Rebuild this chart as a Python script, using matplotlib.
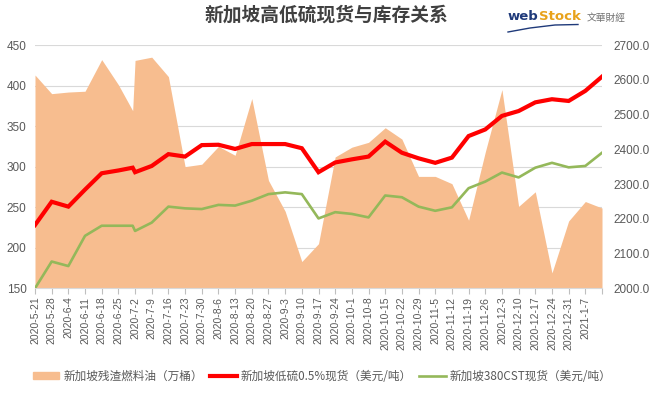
import numpy as np
import pandas as pd
import matplotlib.pyplot as plt

plt.rcParams['font.family'] = ['Noto Sans CJK SC', 'DejaVu Sans']

# 数据
dates = ['2020-05-21', '2020-05-28', '2020-06-04', '2020-06-11', '2020-06-18', '2020-06-25',
         '2020-07-01', '2020-07-02', '2020-07-09', '2020-07-16', '2020-07-23', '2020-07-30',
         '2020-08-06', '2020-08-13', '2020-08-20', '2020-08-27', '2020-09-03', '2020-09-10',
         '2020-09-17', '2020-09-24', '2020-10-01', '2020-10-08', '2020-10-15', '2020-10-22',
         '2020-10-29', '2020-11-05', '2020-11-12', '2020-11-19', '2020-11-26', '2020-12-03',
         '2020-12-10', '2020-12-17', '2020-12-24', '2020-12-31', '2021-01-07', '2021-01-14']
stock = [413, 390, 392, 393, 432, 401, 369, 431, 435, 411, 300, 303, 325, 314, 384, 283,
         245, 183, 205, 312, 324, 330, 348, 334, 288, 288, 279, 234, 318, 395, 251, 269,
         169, 233, 257, 249]
lsfo = [2182, 2249, 2235, 2284, 2331, 2339, 2347, 2334, 2352, 2386, 2379, 2412, 2413, 2401,
        2415, 2415, 2415, 2403, 2334, 2362, 2371, 2379, 2422, 2390, 2374, 2361, 2376, 2438,
        2457, 2496, 2510, 2535, 2544, 2539, 2568, 2609]
cst380 = [2000, 2077, 2064, 2151, 2180, 2180, 2180, 2165, 2189, 2235, 2230, 2228, 2240, 2238,
          2252, 2271, 2276, 2271, 2201, 2219, 2214, 2204, 2267, 2262, 2235, 2223, 2233, 2288,
          2307, 2333, 2319, 2347, 2361, 2348, 2352, 2390]

tick_dates = pd.date_range('2020-05-21', '2021-01-14', freq='7D')
tick_labels = [f"{d.year}-{d.month}-{d.day}" for d in tick_dates[:-1]] + ['']

x = pd.to_datetime(dates)

fig = plt.figure(figsize=(6.52, 3.93), dpi=100)
ax = fig.add_axes([35 / 652, 1 - 288.3 / 393, 567 / 652, 243.3 / 393])
ax2 = ax.twinx()

ax.fill_between(x, 150, stock, color='#F7BD8F', linewidth=0, zorder=2)
ax2.plot(x, lsfo, color='#FF0000', linewidth=3.0, solid_joinstyle='miter', zorder=3)
ax2.plot(x, cst380, color='#94B85A', linewidth=1.9, zorder=3)

ax.set_ylim(150, 450)
ax.set_yticks(np.arange(150, 451, 50))
ax2.set_ylim(2000, 2700)
ax2.set_yticks(np.arange(2000, 2701, 100))
ax2.set_yticklabels([f"{v:.1f}" for v in np.arange(2000, 2701, 100)])
ax.set_xlim(x[0], x[-1])
ax.set_xticks(tick_dates)
ax.set_xticklabels(tick_labels, rotation=90, ha='center', va='top')

ax.grid(axis='y', color='#D9D9D9', linewidth=0.8, zorder=0)
ax.set_axisbelow(True)
for a in (ax, ax2):
    for s in a.spines.values():
        s.set_visible(False)
ax.spines['bottom'].set_visible(True)
ax.spines['bottom'].set_color('#D9D9D9')

ax.tick_params(axis='x', length=4, color='#BFBFBF', labelsize=7.5, labelcolor='#595959', pad=2)
ax.tick_params(axis='y', length=0, labelsize=8.5, labelcolor='#595959', pad=6)
ax2.tick_params(axis='y', length=0, labelsize=8.5, labelcolor='#595959', pad=8)
for lab in ax.get_xticklabels() + ax.get_yticklabels() + ax2.get_yticklabels():
    lab.set_family(['Liberation Sans', 'DejaVu Sans'])

# 标题
fig.text(0.5, 0.962, '新加坡高低硫现货与库存关系', ha='center', va='center',
         fontsize=13.5, fontweight='bold', color='#404040')

# 标志：逐段排字，后一段紧跟前一段
renderer = fig.canvas.get_renderer()
logo_y = 1 - 16 / 393
t_web = fig.text(508 / 652, logo_y, 'web', ha='left', va='center', fontsize=9.5,
                 fontweight='bold', color='#1F3A7A', family=['DejaVu Sans'])
bb = t_web.get_window_extent(renderer)
t_stock = fig.text(bb.x1 / 652, logo_y, 'Stock', ha='left', va='center', fontsize=9.5,
                   fontweight='bold', color='#E8A21A', family=['DejaVu Sans'])
bb = t_stock.get_window_extent(renderer)
fig.text(bb.x1 / 652 + 0.01, logo_y - 0.004, '文華財經', ha='left', va='center', fontsize=7,
         color='#707070', family=['Noto Sans CJK TC', 'DejaVu Sans'])
fig.add_artist(plt.Line2D([508 / 652, 530 / 652, 555 / 652, 578 / 652],
                          [1 - 32 / 393, 1 - 28 / 393, 1 - 25 / 393, 1 - 24.5 / 393],
                          color='#1F3A7A', linewidth=1.0))

# 图例
handles = [plt.Rectangle((0, 0), 1, 1, color='#F7BD8F'),
           plt.Line2D([], [], color='#FF0000', linewidth=3.0),
           plt.Line2D([], [], color='#94B85A', linewidth=1.9)]
labels = ['新加坡残渣燃料油（万桶）', '新加坡低硫0.5%现货（美元/吨）', '新加坡380CST现货（美元/吨）']
fig.legend(handles, labels, loc='center', bbox_to_anchor=(0.494, 1 - 376 / 393), ncol=3,
           frameon=False, fontsize=8.4, handlelength=2.3, handleheight=0.6,
           columnspacing=0.6, handletextpad=0.35, labelcolor='#595959')

fig.savefig('out.png', dpi=100)
